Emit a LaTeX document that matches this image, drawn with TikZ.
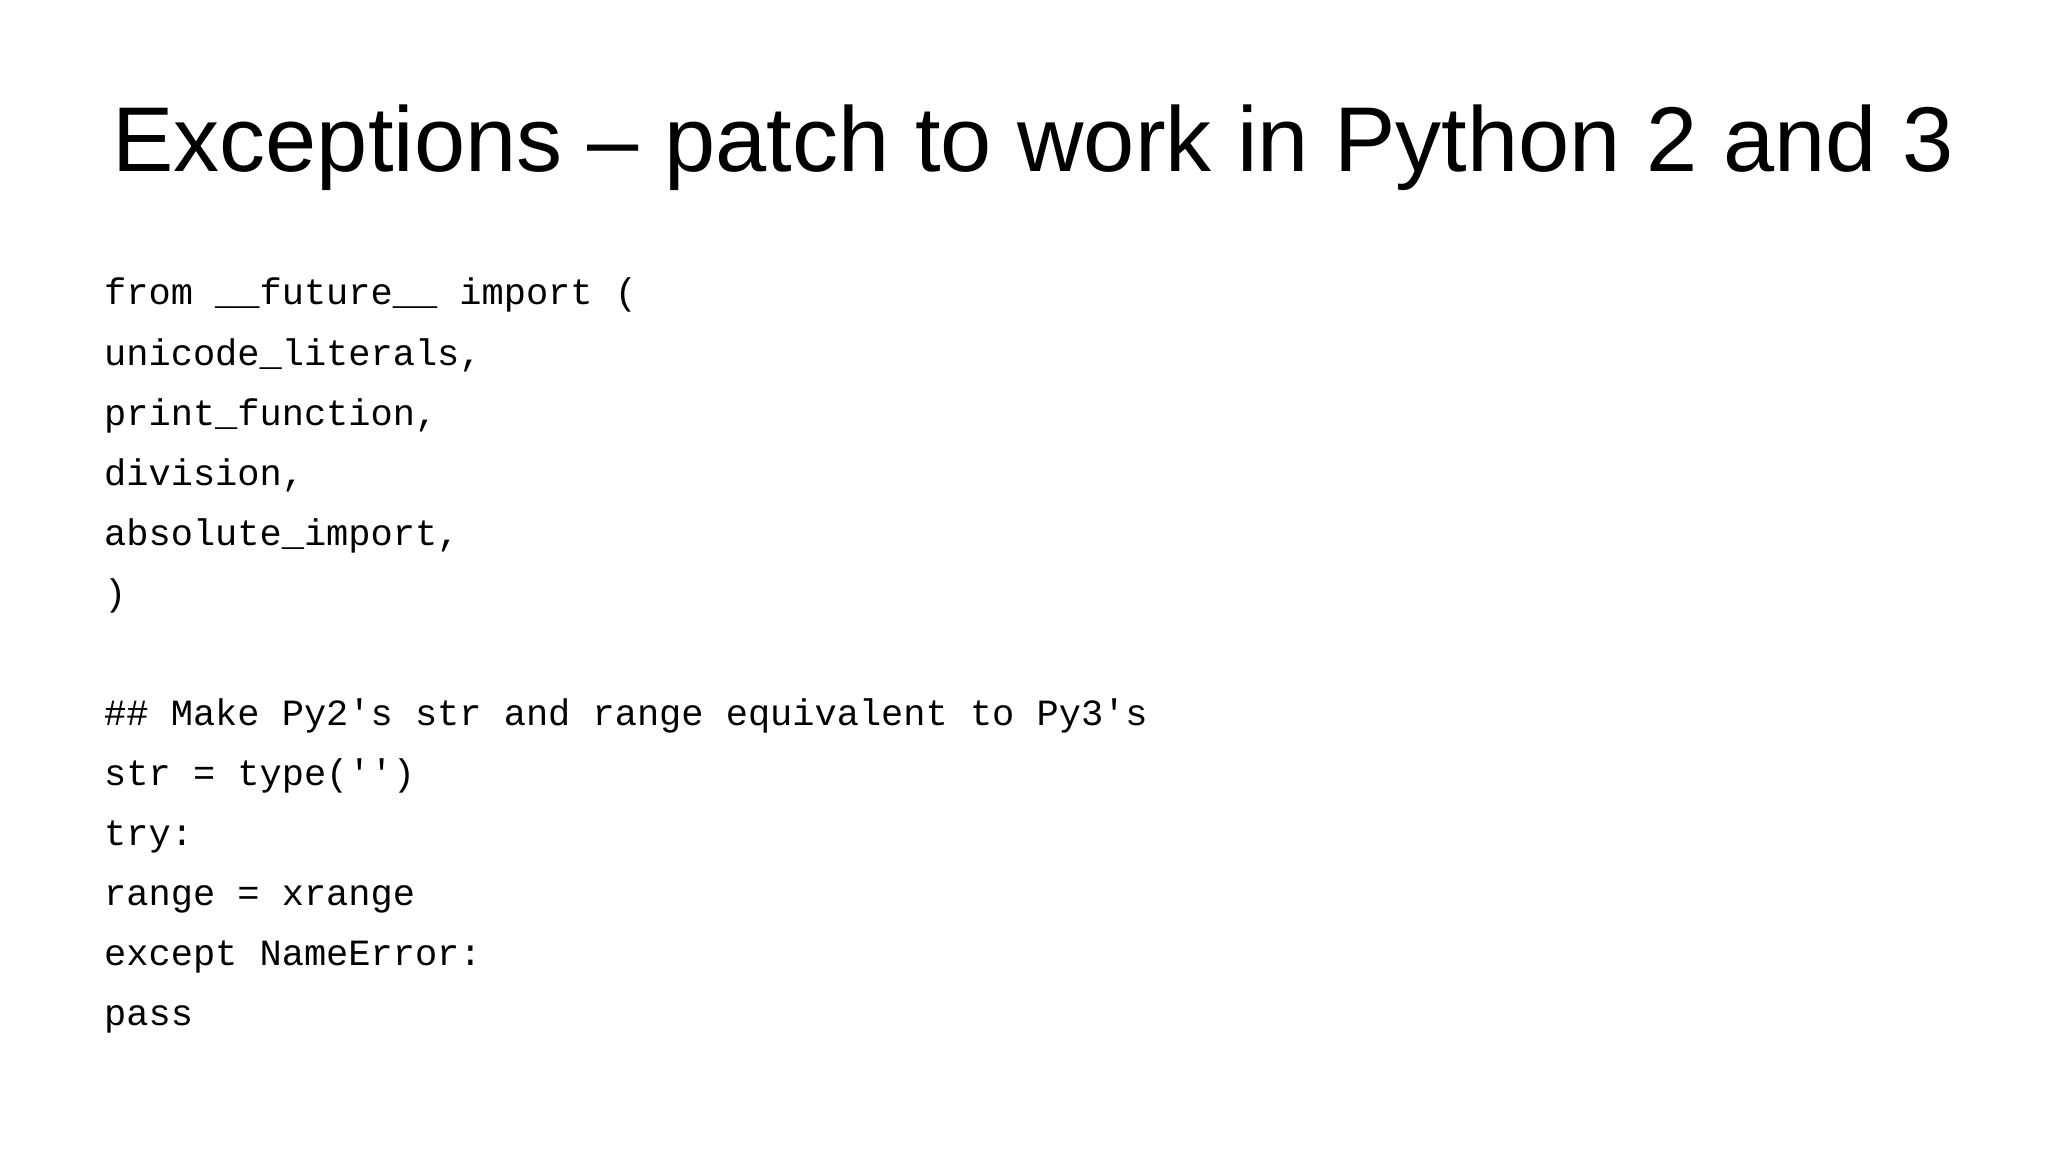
\documentclass[tikz,border=0pt]{standalone}
\usepackage{fontspec}
\setmainfont{Liberation Sans}
\newfontfamily\codefont{Liberation Mono}
\begin{document}
\begin{tikzpicture}[x=1pt,y=-1pt,
  codeline/.style={anchor=base west,inner sep=0pt,font=\codefont\fontsize{37}{40}\selectfont}]
\useasboundingbox (0,0) rectangle (2048,1150);
\node[anchor=base,inner sep=0pt,font=\fontsize{92}{100}\selectfont] (title) at (1033,172) {Exceptions – patch to work in Python 2 and 3};
\def\L#1#2#3{\node[codeline] (#1) at (104,305+60*#2) {\detokenize{#3}};}
\L{l0}{0}{from __future__ import (}
\L{l1}{1}{    unicode_literals,}
\L{l2}{2}{    print_function,}
\L{l3}{3}{    division,}
\L{l4}{4}{    absolute_import,}
\L{l5}{5}{)}
\L{l7}{7}{# Make Py2's str and range equivalent to Py3's}
\L{l8}{8}{str = type('')}
\L{l9}{9}{try:}
\L{l10}{10}{    range = xrange}
\L{l11}{11}{except NameError:}
\L{l12}{12}{    pass}
\end{tikzpicture}
\end{document}
